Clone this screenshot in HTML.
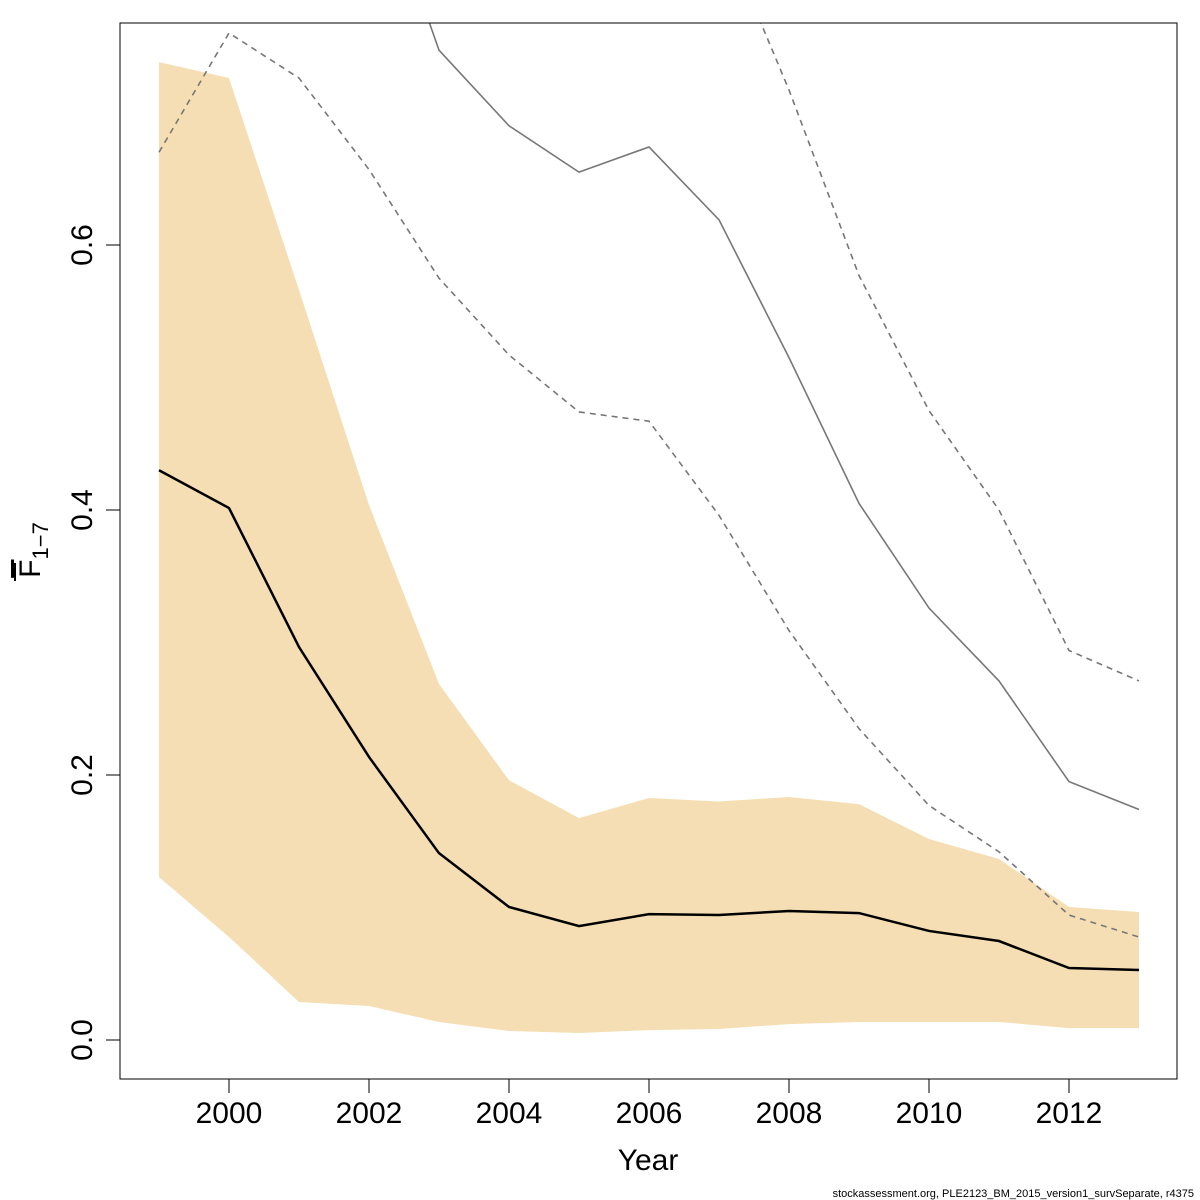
<!DOCTYPE html>
<html><head><meta charset="utf-8"><style>
html,body{margin:0;padding:0;background:#fff;}
svg{display:block;font-family:"Liberation Sans","DejaVu Sans",sans-serif;}
</style></head><body>
<svg id="chart" width="1200" height="1200" viewBox="0 0 1200 1200">
<defs><clipPath id="plotclip"><rect x="120" y="23" width="1057" height="1056"/></clipPath></defs>
<g id="plot" clip-path="url(#plotclip)"></g>
<rect x="120" y="23" width="1057" height="1056" fill="none" stroke="#000" stroke-width="1"/>
<g id="xaxis"></g>
<g id="yaxis"></g>
<text x="648" y="1170" font-size="30" text-anchor="middle">Year</text>
<g transform="translate(40,550) rotate(-90)">
<text x="0" y="0" font-size="30" text-anchor="middle"><tspan text-decoration="overline">F</tspan><tspan font-size="22" dy="8">1−7</tspan></text>
<line x1="-31" y1="-25" x2="-13" y2="-25" stroke="#000" stroke-width="2"/>
</g>
<text x="1194" y="1197" font-size="11" text-anchor="end">stockassessment.org, PLE2123_BM_2015_version1_survSeparate, r4375</text>
</svg>
<script>
const years=[1999,2000,2001,2002,2003,2004,2005,2006,2007,2008,2009,2010,2011,2012,2013];
const fMean=[0.430,0.4015,0.2966,0.2136,0.141,0.1004,0.086,0.095,0.0943,0.0974,0.0958,0.0823,0.0747,0.0543,0.0528];
const fUpper=[0.738,0.726,0.566,0.4038,0.2687,0.196,0.1675,0.1826,0.180,0.1834,0.178,0.1517,0.1366,0.1004,0.0966];
const fLower=[0.123,0.0777,0.0287,0.0257,0.0136,0.0068,0.0053,0.0075,0.0083,0.012,0.0136,0.0136,0.0136,0.009,0.009];
const prevMean=[1.2,1.1,1.0,0.898,0.747,0.69,0.655,0.674,0.619,0.515,0.405,0.326,0.271,0.195,0.174];
const prevLow=[0.670,0.760,0.726,0.657,0.575,0.517,0.474,0.467,0.396,0.309,0.235,0.177,0.142,0.0943,0.0777];
const prevHigh=[1.6,1.5,1.4,1.3,1.2,1.1,1.0,0.97,0.843,0.717,0.577,0.475,0.4,0.294,0.271];
const xTicks=[2000,2002,2004,2006,2008,2010,2012];
const yTicks=[0.0,0.2,0.4,0.6];
const yTickLabels=["0.0","0.2","0.4","0.6"];
const sx=y=>229+(y-2000)*70;
const sy=v=>1040-v*1325;
const NS="http://www.w3.org/2000/svg";
const plot=document.getElementById('plot');
function mk(tag,attrs,parent){const e=document.createElementNS(NS,tag);for(const k in attrs)e.setAttribute(k,attrs[k]);parent.appendChild(e);return e;}
const pts=arr=>arr.map((v,i)=>sx(years[i])+','+sy(v)).join(' ');
const band=mk('polygon',{points:pts(fUpper)+' '+fLower.map((v,i)=>[sx(years[i]),sy(v)]).reverse().map(p=>p.join(',')).join(' '),fill:'#f5deb3',stroke:'none'},plot);


const l1=mk('polyline',{points:pts(prevLow),fill:'none',stroke:'#777','stroke-width':1.6,'stroke-dasharray':'6,5'},plot);


const l2=mk('polyline',{points:pts(prevHigh),fill:'none',stroke:'#777','stroke-width':1.6,'stroke-dasharray':'6,5'},plot);


const l3=mk('polyline',{points:pts(prevMean),fill:'none',stroke:'#777','stroke-width':1.6},plot);


const l4=mk('polyline',{points:pts(fMean),fill:'none',stroke:'#000','stroke-width':2.5},plot);


const xa=document.getElementById('xaxis');
xTicks.forEach(t=>{
 const ln=mk('line',{x1:sx(t),x2:sx(t),y1:1079,y2:1093,stroke:'#000'},xa);
 
 
 const tx=mk('text',{x:sx(t),y:1123,'font-size':30,'text-anchor':'middle'},xa);
 tx.textContent=t;
 
 
});
const ya=document.getElementById('yaxis');
yTicks.forEach((t,i)=>{
 const ln=mk('line',{x1:106,x2:120,y1:sy(t),y2:sy(t),stroke:'#000'},ya);
 
 
 const tx=mk('text',{x:0,y:0,'font-size':30,'text-anchor':'middle',transform:`translate(92,${sy(t)}) rotate(-90)`},ya);
 tx.textContent=yTickLabels[i];
 
 
});
</script>
</body></html>
